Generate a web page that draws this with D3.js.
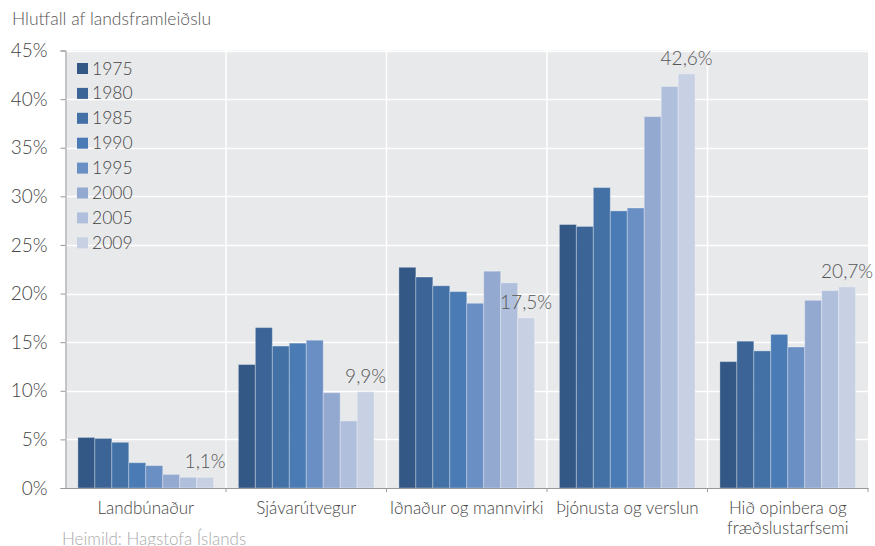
<!DOCTYPE html>
<html>
<head>
<meta charset="utf-8">
<style>
  body { margin: 0; background: #fff; font-family: Lato, "Open Sans", sans-serif; font-weight: 300; }
  svg text { fill: #444; }
</style>
<script src="https://cdn.jsdelivr.net/npm/d3@7"></script>
</head>
<body>
<script>
var categories = ["Landbúnaður", "Sjávarútvegur", "Iðnaður og mannvirki", "Þjónusta og verslun", "Hið opinbera og|fræðslustarfsemi"];
var years = ["1975", "1980", "1985", "1990", "1995", "2000", "2005", "2009"];
var colors = ["#345886", "#3c6496", "#4371a6", "#4a7bb5", "#6a8fc4", "#94a9d0", "#b0c0dc", "#c8d1e4"];
var s1975 = [5.2, 12.7, 22.7, 27.1, 13.0];
var s1980 = [5.1, 16.5, 21.7, 26.9, 15.1];
var s1985 = [4.7, 14.6, 20.8, 30.9, 14.1];
var s1990 = [2.6, 14.9, 20.2, 28.5, 15.8];
var s1995 = [2.3, 15.2, 19.0, 28.8, 14.5];
var s2000 = [1.4, 9.8, 22.3, 38.2, 19.3];
var s2005 = [1.1, 6.9, 21.1, 41.3, 20.3];
var s2009 = [1.1, 9.9, 17.5, 42.6, 20.7];
var yTicks = [0, 5, 10, 15, 20, 25, 30, 35, 40, 45];

var series = [s1975, s1980, s1985, s1990, s1995, s2000, s2005, s2009];

var W = 875, H = 546;
var pLeft = 65.5, pRight = 868, pTop = 50.5, pBottom = 488;

var svg = d3.select("body").append("svg").attr("width", W).attr("height", H);

var x0 = d3.scaleBand().domain(categories).range([pLeft, pRight]).paddingInner(0).paddingOuter(0);
var x1 = d3.scaleBand().domain(years).range([0, x0.bandwidth()]).paddingInner(0).paddingOuter(0.73);
var y = d3.scaleLinear().domain([0, 45]).range([pBottom, pTop]);

svg.append("rect").attr("x", pLeft).attr("y", pTop).attr("width", pRight - pLeft).attr("height", pBottom - pTop).attr("fill", "#e8e9eb");

// grid
svg.append("g").selectAll("line").data(yTicks.slice(1)).join("line")
  .attr("x1", pLeft).attr("x2", pRight)
  .attr("y1", function(d){ return Math.round(y(d)) + 0.5; })
  .attr("y2", function(d){ return Math.round(y(d)) + 0.5; })
  .attr("stroke", "#fff").attr("stroke-width", 1.5);
svg.append("g").selectAll("line").data(categories.slice(1)).join("line")
  .attr("x1", function(d){ return x0(d); }).attr("x2", function(d){ return x0(d); })
  .attr("y1", pTop).attr("y2", pBottom)
  .attr("stroke", "#fff").attr("stroke-width", 1.5);

// bars
var groups = svg.append("g").selectAll("g").data(categories).join("g")
  .attr("transform", function(d){ return "translate(" + x0(d) + ",0)"; });
groups.selectAll("rect")
  .data(function(c, ci){ return years.map(function(yr, i){ return {year: yr, i: i, v: series[i][ci]}; }); })
  .join("rect")
  .attr("x", function(d){ return x1(d.year); })
  .attr("y", function(d){ return y(d.v); })
  .attr("width", x1.bandwidth())
  .attr("height", function(d){ return pBottom - y(d.v); })
  .attr("fill", function(d){ return colors[d.i]; })
  .attr("stroke", "rgba(255,255,255,0.3)").attr("stroke-width", 1);

// value labels on last series
svg.append("g").selectAll("text").data(categories).join("text")
  .attr("x", function(d){ return x0(d) + x1("2009") + x1.bandwidth() / 2; })
  .attr("y", function(c, ci){ return y(s2009[ci]) - 9; })
  .attr("text-anchor", "middle")
  .style("font-size", "19px").style("fill", "#555")
  .text(function(c, ci){ return String(s2009[ci]).replace(".", ",") + "%"; });

// axes
var yAxis = svg.append("g").attr("transform", "translate(" + pLeft + ",0)")
  .call(d3.axisLeft(y).tickValues(yTicks).tickSize(5).tickPadding(13).tickFormat(function(d){ return d + "%"; }));
yAxis.select(".domain").attr("stroke", "#999");
yAxis.selectAll(".tick line").attr("stroke", "#999");
yAxis.selectAll(".tick text").style("font-size", "19px").style("font-family", "Lato, sans-serif").style("font-weight", 300).attr("fill", "#444");

var xAxis = svg.append("g").attr("transform", "translate(0," + pBottom + ")")
  .call(d3.axisBottom(x0).tickSize(0).tickFormat(""));
xAxis.select(".domain").attr("stroke", "#999");
svg.append("g").selectAll("line").data(categories.slice(1).concat(["end"])).join("line")
  .attr("x1", function(d){ return d === "end" ? pRight : x0(d); })
  .attr("x2", function(d){ return d === "end" ? pRight : x0(d); })
  .attr("y1", pBottom).attr("y2", pBottom + 4).attr("stroke", "#999");

svg.append("g").selectAll("text").data(categories).join("text")
  .attr("x", function(d){ return x0(d) + x0.bandwidth() / 2; })
  .attr("y", 514)
  .attr("text-anchor", "middle")
  .style("font-size", "17px")
  .each(function(d){
    var t = d3.select(this);
    d.split("|").forEach(function(line, i){
      t.append("tspan").attr("x", x0(d) + x0.bandwidth() / 2).attr("dy", i ? 20 : 0).text(line);
    });
  });

// legend
var leg = svg.append("g").selectAll("g").data(years).join("g")
  .attr("transform", function(d, i){ return "translate(77," + (68 + i * 24.9) + ")"; });
leg.append("rect").attr("x", 0).attr("y", -5).attr("width", 11).attr("height", 11)
  .attr("fill", function(d, i){ return colors[i]; });
leg.append("text").attr("x", 15).attr("y", 6.5).style("font-size", "17.5px").text(function(d){ return d; });

// title & source
svg.append("text").attr("x", 12).attr("y", 25).style("font-size", "17.5px").style("fill", "#555").text("Hlutfall af landsframleiðslu");
svg.append("text").attr("x", 62).attr("y", 545).style("font-size", "17px").style("fill", "#aaa").text("Heimild: Hagstofa Íslands");
</script>
</body>
</html>
